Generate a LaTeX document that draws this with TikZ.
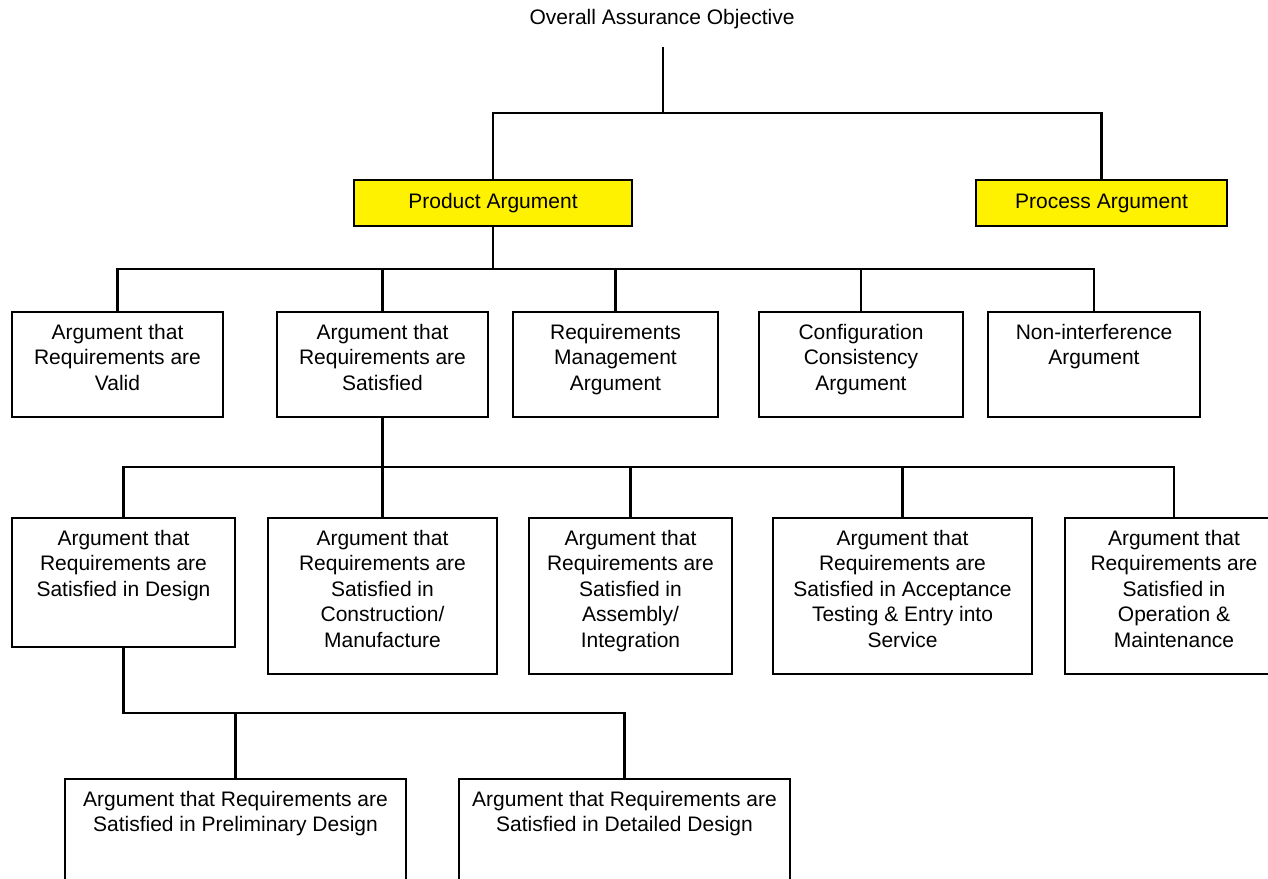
\documentclass[tikz,border=0pt]{standalone}
\usepackage{fontspec}
\setmainfont{Liberation Sans}
\usetikzlibrary{fit}
% a framed box spanning two corners, with its text hanging from the top edge
\newcommand\argnode[6]{%
  \node[argbox, fit={(#2,#3) (#4,#5)}] (#1) {};
  \node[boxtext] (#1t) at ([yshift=-13pt]#1.north) {#6};}
% a yellow box spanning two corners, with its text centred
\newcommand\keynode[6]{%
  \node[keybox, fit={(#2,#3) (#4,#5)}] (#1) {};
  \node[inner sep=0pt] (#1t) at (#1.center) {#6};}
\begin{document}
\begin{tikzpicture}[x=1pt, y=-1pt,
  every node/.style={font=\fontsize{21}{25.4}\selectfont},
  argbox/.style={draw=black, line width=2pt, rectangle, inner sep=0pt, fill=white},
  keybox/.style={argbox, fill=yellow},
  boxtext/.style={anchor=north, align=center, inner sep=0pt},
  conn/.style={draw=black, line width=2.7pt}]
\useasboundingbox (0,0) rectangle (1268,878);
\clip (0,0) rectangle (1268,878);

% top goal
\node[inner sep=0pt] (goal) at (662,19) {Overall Assurance Objective};
\coordinate (g0) at (663,47);
\coordinate (j0) at (663,113);

% first level
\keynode{prod}{354}{180}{632}{226}{Product Argument}
\keynode{proc}{976}{180}{1227}{226}{Process Argument}

% second level
\argnode{a1}{12}{312}{223}{417}{Argument that\\Requirements are\\Valid}
\argnode{a2}{277}{312}{488}{417}{Argument that\\Requirements are\\Satisfied}
\argnode{a3}{513}{312}{718}{417}{Requirements\\Management\\Argument}
\argnode{a4}{759}{312}{963}{417}{Configuration\\Consistency\\Argument}
\argnode{a5}{988}{312}{1200}{417}{Non-interference\\Argument}
\coordinate (j1) at (prod.south |- {(0,269)});

% third level
\argnode{d1}{12}{518}{235}{647}{Argument that\\Requirements are\\Satisfied in Design}
\argnode{d2}{268}{518}{497}{674}{Argument that\\Requirements are\\Satisfied in\\Construction/\\Manufacture}
\argnode{d3}{529}{518}{732}{674}{Argument that\\Requirements are\\Satisfied in\\Assembly/\\Integration}
\argnode{d4}{773}{518}{1032}{674}{Argument that\\Requirements are\\Satisfied in Acceptance\\Testing \& Entry into\\Service}
\argnode{d5}{1065}{518}{1283}{674}{Argument that\\Requirements are\\Satisfied in\\Operation \&\\Maintenance}
\coordinate (j2) at (a2.south |- {(0,467)});

% fourth level
\argnode{e1}{65}{779}{406}{910}{Argument that Requirements are\\Satisfied in Preliminary Design}
\argnode{e2}{459}{779}{790}{910}{Argument that Requirements are\\Satisfied in Detailed Design}
\coordinate (j3) at (e1.north |- {(0,713)});

% connectors
\draw[conn] (g0) -- (j0);
\draw[conn] (prod.north) |- (j0) -| (proc.north);

\draw[conn] (prod.south) -- (j1);
\draw[conn] (a1.north) |- (j1) -| (a5.north);
\draw[conn] (a2.north) -- (a2.north |- j1);
\draw[conn] (a3.north) -- (a3.north |- j1);
\draw[conn] (a4.north) -- (a4.north |- j1);

\draw[conn] (a2.south) -- (j2);
\draw[conn] (d1.north) |- (j2) -| (d5.north);
\draw[conn] (d2.north) -- (d2.north |- j2);
\draw[conn] (d3.north) -- (d3.north |- j2);
\draw[conn] (d4.north) -- (d4.north |- j2);

\draw[conn] (d1.south) |- (j3) -| (e2.north);
\draw[conn] (e1.north) -- (j3);
\end{tikzpicture}
\end{document}
